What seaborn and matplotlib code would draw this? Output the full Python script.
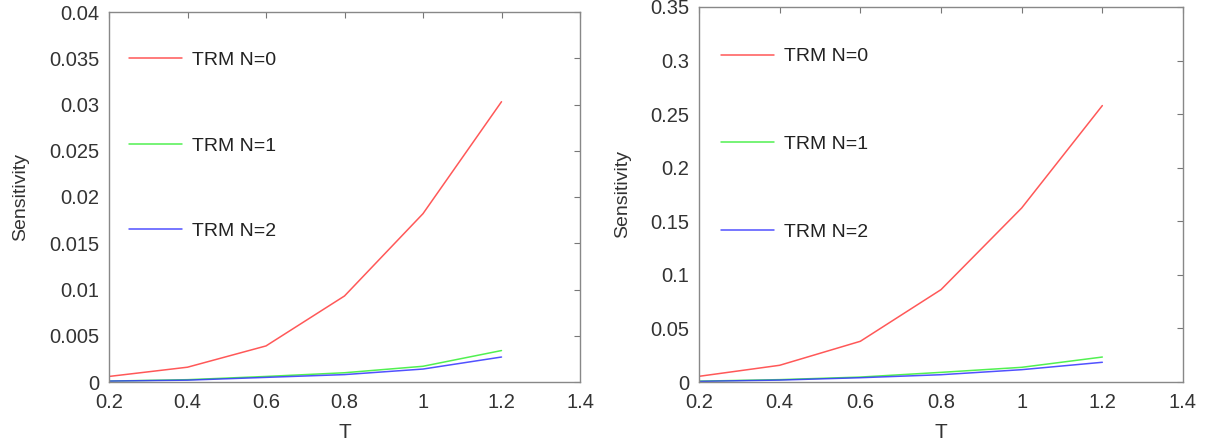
import numpy as np
import pandas as pd
import matplotlib
matplotlib.use("Agg")
import matplotlib.pyplot as plt
import seaborn as sns

# Temperature grid
T = [0.2, 0.4, 0.6, 0.8, 1.0, 1.2]

# Sensitivity, first case
left_n0 = [0.0006, 0.0016, 0.0039, 0.0093, 0.0182, 0.0303]
left_n1 = [0.0001, 0.00025, 0.0006, 0.0010, 0.0017, 0.0034]
left_n2 = [0.0001, 0.0002, 0.0005, 0.0008, 0.0014, 0.0027]

# Sensitivity, second case
right_n0 = [0.0053, 0.0156, 0.0380, 0.0862, 0.1624, 0.2580]
right_n1 = [0.0008, 0.0022, 0.0046, 0.0090, 0.0137, 0.0233]
right_n2 = [0.0006, 0.0018, 0.0040, 0.0068, 0.0115, 0.0184]

labels = ["TRM N=0", "TRM N=1", "TRM N=2"]
colors = ["#ff3b3b", "#33ee33", "#3333ff"]

sns.set_theme(style="white")
plt.rcParams["font.family"] = ["Liberation Sans", "DejaVu Sans"]


def frame(series):
    rows = []
    for lab, vals in zip(labels, series):
        for t, v in zip(T, vals):
            rows.append({"T": t, "Sensitivity": v, "curve": lab})
    return pd.DataFrame(rows)


fig = plt.figure(figsize=(12.07, 4.45), dpi=100)
ax_l = fig.add_axes([109 / 1207, (445 - 382) / 445, (580 - 109) / 1207, (382 - 12) / 445])
ax_r = fig.add_axes([699 / 1207, (445 - 382) / 445, (1183 - 699) / 1207, (382 - 7) / 445])

panels = [
    (ax_l, frame([left_n0, left_n1, left_n2]), 0.04, np.arange(0, 0.0401, 0.005),
     ["0", "0.005", "0.01", "0.015", "0.02", "0.025", "0.03", "0.035", "0.04"],
     (0.006, 0.941), 3.5),
    (ax_r, frame([right_n0, right_n1, right_n2]), 0.35, np.arange(0, 0.351, 0.05),
     ["0", "0.05", "0.1", "0.15", "0.2", "0.25", "0.3", "0.35"],
     (0.01, 0.938), 3.6),
]

text_color = "#333333"
for ax, df, ymax, yt, ytl, leg_anchor, spacing in panels:
    sns.lineplot(data=df, x="T", y="Sensitivity", hue="curve",
                 palette=dict(zip(labels, colors)), linewidth=1.1,
                 alpha=0.85, ax=ax)
    ax.set_xlim(0.2, 1.4)
    ax.set_ylim(0, ymax)
    ax.set_xticks([0.2, 0.4, 0.6, 0.8, 1.0, 1.2, 1.4])
    ax.set_xticklabels(["0.2", "0.4", "0.6", "0.8", "1", "1.2", "1.4"])
    ax.set_yticks(yt)
    ax.set_yticklabels(ytl)
    ax.tick_params(direction="in", length=4, width=0.8, color="#777777",
                   top=True, right=True, labelsize=14.5, labelcolor=text_color)
    ax.tick_params(axis="x", pad=8)
    ax.tick_params(axis="y", pad=7)
    for sp in ax.spines.values():
        sp.set_color("#888888")
        sp.set_linewidth(1.0)
    ax.set_xlabel("T", fontsize=15, color=text_color, labelpad=8)
    ax.set_ylabel("Sensitivity", fontsize=14, color=text_color, labelpad=14)
    leg = ax.legend(loc="upper left", bbox_to_anchor=leg_anchor, frameon=False,
                    fontsize=14, labelspacing=spacing, handlelength=2.7,
                    handletextpad=0.5, title=None)
    for t in leg.get_texts():
        t.set_color("#222222")

fig.savefig("out.png", dpi=100)
